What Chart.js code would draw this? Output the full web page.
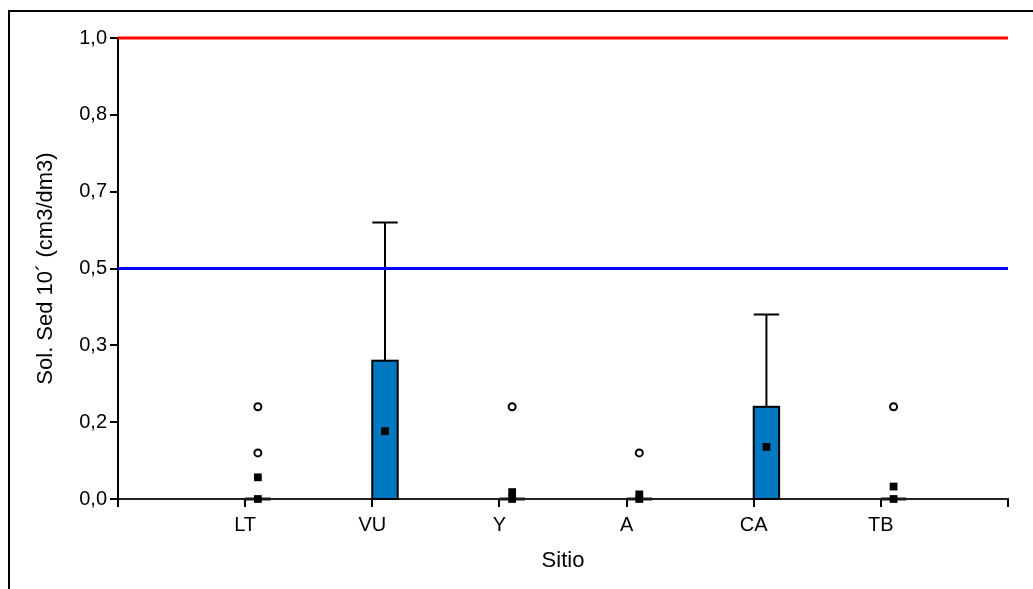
<!DOCTYPE html>
<html>
<head>
<meta charset="utf-8">
<script src="https://cdn.jsdelivr.net/npm/chart.js@4.4.1/dist/chart.umd.min.js"></script>
<style>
  html, body { margin: 0; padding: 0; background: #fff; }
  canvas { display: block; }
</style>
</head>
<body>
<canvas id="sedChart" width="1033" height="589"></canvas>
<script>
// Sitios de muestreo
const sitios = ['LT', 'VU', 'Y', 'A', 'CA', 'TB'];

// Caja (Q1-Q3), bigote superior y media por sitio
const q1 = [0, 0, 0, 0, 0, 0];
const q3 = [0, 0.3, 0, 0, 0.2, 0];
const bigoteMax = [0, 0.6, 0, 0, 0.4, 0];
const medias = [0.047, 0.147, 0.015, 0.01, 0.113, 0.027];
const medianas = [0, null, 0, 0, null, 0];

// Valores atípicos: [índice de sitio, valor]
const atipicos = [[0, 0.2], [0, 0.1], [2, 0.2], [3, 0.1], [5, 0.2]];

// Límites de referencia
const limiteRojo = 1.0;
const limiteAzul = 0.5;

const yTicks = [0, 1 / 6, 2 / 6, 3 / 6, 4 / 6, 5 / 6, 1];
const xTicks = [0, 1, 2, 3, 4, 5, 6, 7];

const FONT = 'Liberation Sans, Arial, sans-serif';
const SHIFT = 0.1;      // boxes sit slightly right of the tick
const HALF_W = 0.1;     // half box width in category units

const pos = (i) => i + 1 + SHIFT;

const framePlugin = {
    id: 'frame',
    beforeDraw(chart) {
        const ctx = chart.ctx;
        ctx.save();
        ctx.fillStyle = '#fff';
        ctx.fillRect(0, 0, chart.width, chart.height);
        ctx.strokeStyle = '#000';
        ctx.lineWidth = 2;
        ctx.strokeRect(9, 11, chart.width + 20, chart.height + 20);
        ctx.restore();
    },
};

const boxPlugin = {
    id: 'boxes',
    beforeDatasetsDraw(chart) {
        const { ctx, scales: { x, y } } = chart;
        ctx.save();
        sitios.forEach((s, i) => {
            const cx = x.getPixelForValue(pos(i));
            const left = x.getPixelForValue(pos(i) - HALF_W);
            const right = x.getPixelForValue(pos(i) + HALF_W);
            const top = y.getPixelForValue(q3[i]);
            const bottom = y.getPixelForValue(q1[i]);
            const wTop = y.getPixelForValue(bigoteMax[i]);

            ctx.strokeStyle = '#000';
            ctx.lineWidth = 2;
            if (bigoteMax[i] > q3[i]) {
                ctx.beginPath();
                ctx.moveTo(cx, top);
                ctx.lineTo(cx, wTop);
                ctx.moveTo(left, wTop);
                ctx.lineTo(right, wTop);
                ctx.stroke();
            }
            if (q3[i] > q1[i]) {
                ctx.fillStyle = '#0079c1';
                ctx.fillRect(left, top, right - left, bottom - top);
                ctx.strokeRect(left, top, right - left, bottom - top);
            } else {
                ctx.strokeStyle = '#1a1a1a';
                ctx.lineWidth = 3;
                ctx.beginPath();
                ctx.moveTo(left, bottom);
                ctx.lineTo(right, bottom);
                ctx.stroke();
            }
        });
        ctx.restore();
    },
};

const refLine = (v, color) => ({
    type: 'line',
    data: [{ x: 0, y: v }, { x: 7, y: v }],
    borderColor: color,
    borderWidth: 3,
    pointRadius: 0,
    clip: false,
    order: 3,
});

new Chart(document.getElementById('sedChart'), {
    type: 'scatter',
    data: {
        datasets: [
            refLine(limiteRojo, '#ff0000'),
            refLine(limiteAzul, '#0000ff'),
            {
                label: 'Mediana',
                data: medianas.map((v, i) => (v === null ? null : { x: pos(i), y: v })).filter(Boolean),
                pointStyle: 'rect',
                pointRadius: 5.5,
                backgroundColor: '#000',
                borderColor: '#000',
                borderWidth: 0,
                clip: false,
                order: 2,
            },
            {
                label: 'Media',
                data: medias.map((v, i) => ({ x: pos(i), y: v })),
                pointStyle: 'rect',
                pointRadius: 5.5,
                backgroundColor: '#000',
                borderColor: '#000',
                borderWidth: 0,
                clip: false,
                order: 1,
            },
            {
                label: 'Atípicos',
                data: atipicos.map(([i, v]) => ({ x: pos(i), y: v })),
                pointStyle: 'circle',
                pointRadius: 3.5,
                backgroundColor: '#fff',
                borderColor: '#000',
                borderWidth: 2,
                order: 0,
            },
        ],
    },
    options: {
        responsive: false,
        animation: false,
        events: [],
        layout: { padding: { left: 33, top: 38, right: 25, bottom: 15 } },
        plugins: {
            legend: { display: false },
            tooltip: { enabled: false },
        },
        scales: {
            x: {
                type: 'linear',
                min: 0,
                max: 7,
                afterBuildTicks: (s) => { s.ticks = xTicks.map((v) => ({ value: v })); },
                afterFit: (s) => { s.height = 75; },
                grid: { drawOnChartArea: false, tickLength: 8, color: '#000', lineWidth: 2 },
                border: { color: '#222', width: 2 },
                ticks: {
                    autoSkip: false,
                    maxRotation: 0,
                    padding: 6,
                    color: '#000',
                    font: { family: FONT, size: 20 },
                    callback: (v) => sitios[v - 1] ?? '',
                },
                title: {
                    display: true,
                    text: 'Sitio',
                    color: '#000',
                    font: { family: FONT, size: 22 },
                    padding: { top: 6, bottom: 0 },
                },
            },
            y: {
                min: 0,
                max: 1,
                afterBuildTicks: (s) => { s.ticks = yTicks.map((v) => ({ value: v })); },
                afterFit: (s) => { s.width = 85; },
                grid: { drawOnChartArea: false, tickLength: 8, color: '#000', lineWidth: 2 },
                border: { color: '#000', width: 2 },
                ticks: {
                    padding: 3,
                    color: '#000',
                    font: { family: FONT, size: 20 },
                    callback: (v) => v.toFixed(1).replace('.', ','),
                },
                title: {
                    display: true,
                    text: 'Sol. Sed 10´ (cm3/dm3)',
                    color: '#000',
                    font: { family: FONT, size: 22 },
                    padding: { top: 0, bottom: 0 },
                },
            },
        },
    },
    plugins: [framePlugin, boxPlugin],
});
</script>
</body>
</html>
